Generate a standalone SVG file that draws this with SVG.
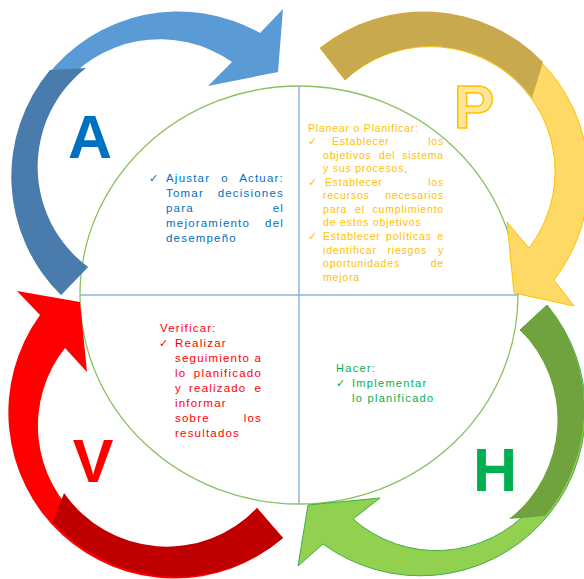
<svg xmlns="http://www.w3.org/2000/svg" width="584" height="579" viewBox="0 0 584 579">
<style>
.t{font-family:"Liberation Sans",Arial,sans-serif;font-size:11.5px;letter-spacing:1.2px}
.ty{font-family:"Liberation Sans",Arial,sans-serif;font-size:10.5px;letter-spacing:0.8px}
.tg{font-family:"Liberation Sans",Arial,sans-serif;font-size:11px;letter-spacing:1.3px}
.ck{font-family:"DejaVu Sans",sans-serif;font-size:11px;letter-spacing:0}
.big{font-family:"Liberation Sans",Arial,sans-serif;font-weight:bold;font-size:61px;text-anchor:middle;letter-spacing:0}
.e{text-anchor:end}
.m{text-anchor:middle}
</style>
<rect width="584" height="579" fill="#ffffff"/>
<g id="center">
<ellipse cx="299" cy="295" rx="219" ry="209" fill="#ffffff" stroke="#8cc063" stroke-width="1.3"/>
<line x1="299" y1="86" x2="299" y2="504" stroke="#8db3e2" stroke-width="1.5"/>
<line x1="80" y1="295" x2="518" y2="295" stroke="#8db3e2" stroke-width="1.5"/>
</g>
<g id="connectors">
<g id="arrow-A">
<path d="M61,295 A166,166 0 0 1 260,33 L283,9 L278,72 L208,86 L232,62 A125,125 0 0 0 88,267 Z" fill="#5b9bd5"/>
<path d="M61,295 A166,166 0 0 1 50,70 L86,68 A125,125 0 0 0 88,267 Z" fill="#4a7bad"/>
</g>
<g id="arrow-P">
<path d="M320,48 A166,166 0 0 1 554,280 L574,306 L514,293 L507,222 L529,248 A125,125 0 0 0 345,80 Z" fill="#ffd966" stroke="#ffc000" stroke-width="1"/>
<path d="M320,48 A166,166 0 0 1 543,62 L532,98 A125,125 0 0 0 345,80 Z" fill="#c9a94d"/>
</g>
<g id="arrow-H">
<path d="M547,305 A165,165 0 0 1 323,544 L298,566 L308,505 L380,498 L353,519 A126,126 0 0 0 520,330 Z" fill="#92d050" stroke="#3fae49" stroke-width="1"/>
<path d="M547,305 A165,165 0 0 1 545,516 L509,519 A126,126 0 0 0 520,330 Z" fill="#70a33e"/>
</g>
<g id="arrow-V">
<path d="M283,538 A166,166 0 0 1 40,315 L17,291 L80,302 L87,372 L65,348 A125,125 0 0 0 257,508 Z" fill="#ff0000"/>
<path d="M283,538 A166,166 0 0 1 53,522 L64,493 A125,125 0 0 0 257,508 Z" fill="#c00000"/>
</g>
</g>
<g id="node-A" class="t" fill="#0070c0">
<text class="big" x="90" y="158">A</text>
<text class="ck" x="149" y="182">✓</text>
<text x="166" y="182">Ajustar</text><text class="m" x="225" y="182">o</text><text class="e" x="284" y="182">Actuar:</text>
<text x="166" y="197">Tomar</text><text class="e" x="284" y="197">decisiones</text>
<text x="166" y="212">para</text><text class="e" x="284" y="212">el</text>
<text x="166" y="227">mejoramiento</text><text class="e" x="284" y="227">del</text>
<text x="166" y="242">desempeño</text>
</g>
<g id="node-P" class="ty" fill="#ffc000">
<text class="big" x="474" y="128" fill="#ffe699" stroke="#ffc000" stroke-width="1.5">P</text>
<text x="308" y="131.5">Planear o Planificar:</text>
<text class="ck" x="308" y="145">✓</text>
<text x="332" y="145">Establecer</text><text class="e" x="444" y="145">los</text>
<text x="323" y="158.6">objetivos</text><text x="379" y="158.6">del</text><text class="e" x="444" y="158.6">sistema</text>
<text x="323" y="172">y sus procesos,</text>
<text class="ck" x="308" y="185.7">✓</text>
<text x="325" y="185.7">Establecer</text><text class="e" x="444" y="185.7">los</text>
<text x="323" y="199.3">recursos</text><text class="e" x="444" y="199.3">necesarios</text>
<text x="323" y="212.8">para</text><text x="355" y="212.8">el</text><text class="e" x="444" y="212.8">cumplimiento</text>
<text x="323" y="226.4">de estos objetivos</text>
<text class="ck" x="308" y="240">✓</text>
<text x="323" y="240">Establecer</text><text x="386" y="240">políticas</text><text class="e" x="444" y="240">e</text>
<text x="323" y="253.6">identificar</text><text x="387.5" y="253.6">riesgos</text><text class="e" x="444" y="253.6">y</text>
<text x="323" y="267.1">oportunidades</text><text class="e" x="444" y="267.1">de</text>
<text x="323" y="280.7">mejora</text>
</g>
<g id="node-V" class="t" fill="#ff0000">
<text class="big" x="93" y="482">V</text>
<text x="160" y="332">Verificar:</text>
<text class="ck" x="159" y="347">✓</text>
<text x="175" y="347">Realizar</text>
<text x="175" y="362">seguimiento</text><text class="e" x="262" y="362">a</text>
<text x="175" y="377">lo</text><text class="e" x="262" y="377">planificado</text>
<text x="175" y="392">y</text><text x="189" y="392">realizado</text><text class="e" x="262" y="392">e</text>
<text x="175" y="407">informar</text>
<text x="175" y="422">sobre</text><text class="e" x="262" y="422">los</text>
<text x="175" y="437">resultados</text>
</g>
<g id="node-H" class="tg" fill="#00b050">
<text class="big" x="495" y="491">H</text>
<text x="336" y="371.5">Hacer:</text>
<text class="ck" x="336" y="386.5">✓</text>
<text x="352" y="386.5">Implementar</text>
<text x="352" y="401.5">lo planificado</text>
</g>
</svg>
